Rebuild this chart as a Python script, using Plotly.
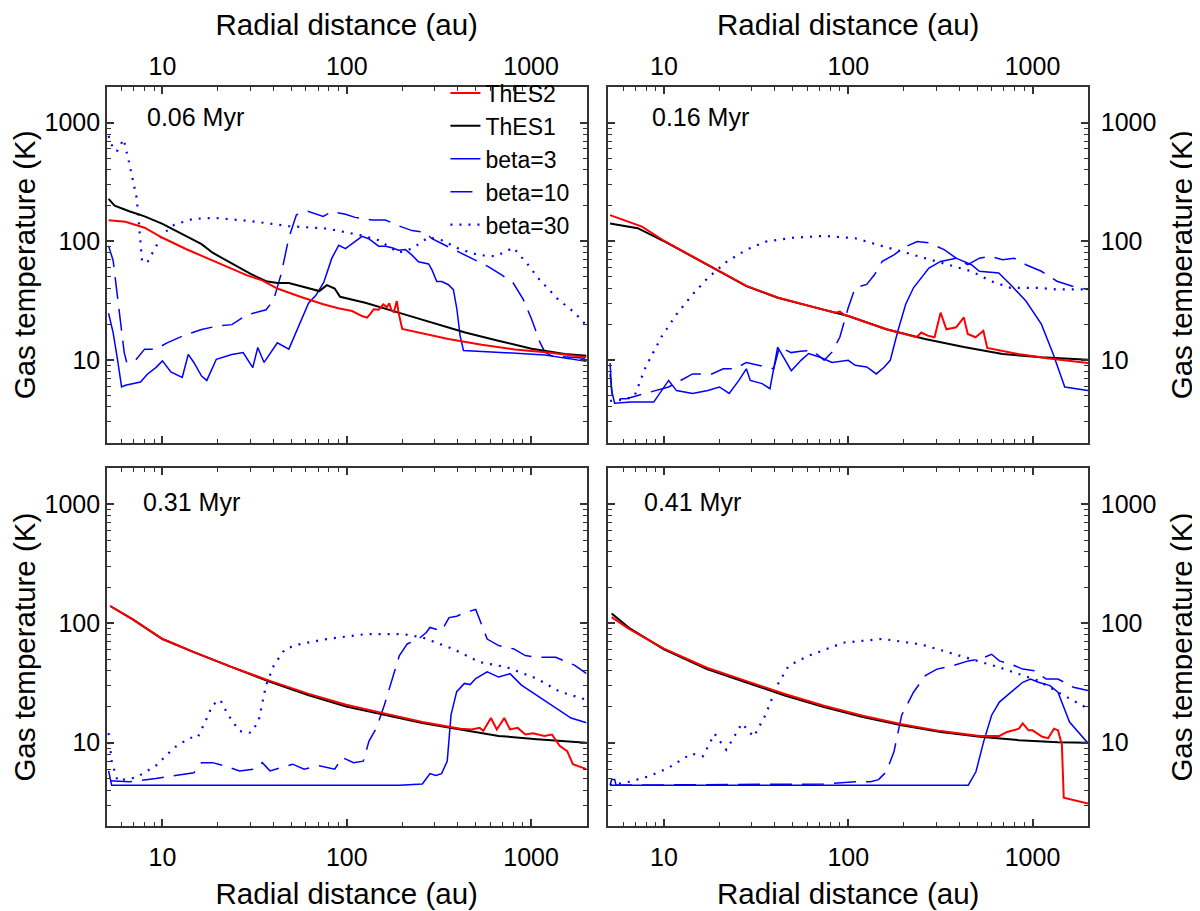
import plotly.graph_objects as go
from plotly.subplots import make_subplots

# radial distance (au) / gas temperature (K)

# ---- 0.06 Myr ----
r_a_thes2 = [5.1, 6.3, 8.0, 10, 13.4, 19.6, 28.8, 34.8, 42, 56, 74.5, 90, 107, 121, 129, 134, 140, 149, 158, 165, 170, 175, 180, 187, 191, 200, 245, 356, 540, 817, 1236, 2000]
T_a_thes2 = [150, 146, 130, 107, 86, 66.5, 51.5, 46.8, 39.9, 34, 29.4, 27.2, 25.8, 23.4, 22.7, 24.3, 26.7, 26.5, 29.3, 27.8, 30, 26, 25.3, 31.3, 25, 18.2, 17, 15, 13.4, 12.2, 11.5, 10.5]
r_a_thes1 = [5.1, 5.5, 6.6, 8.0, 10, 12.8, 16.3, 18.7, 23.8, 30.1, 36.5, 42, 48.5, 61.5, 71, 78, 86, 92, 126, 191, 290, 439, 664, 1007, 1524, 2000]
T_a_thes1 = [228, 200, 179, 162, 140, 114, 94.5, 80, 65, 53, 46, 44.5, 44.5, 40.5, 38, 42.6, 39.9, 34, 30.3, 25, 20.6, 17, 14.5, 12.4, 11.2, 10.8]
r_a_b3 = [5.1, 5.4, 5.7, 6.0, 6.3, 6.9, 7.6, 8.3, 9.2, 10, 11.1, 12.8, 13.8, 14.8, 16.3, 17.4, 19.6, 23.8, 27.4, 30.9, 32.9, 35.6, 42, 48.5, 56, 62, 68, 75, 83, 90.5, 98.4, 107, 121, 131.5, 149, 162, 176, 191, 208, 226, 245, 278, 290, 308, 328, 356, 379, 396, 412, 430, 664, 1189, 2000]
T_a_b3 = [24.7, 16.9, 10.1, 5.9, 6.1, 6.3, 6.5, 7.6, 8.6, 9.8, 7.9, 7.1, 11.1, 9.5, 7.3, 6.7, 10.1, 11.1, 11.5, 8.6, 12.7, 9.5, 13.9, 12.3, 20.4, 30, 35, 45, 72, 92.5, 86.7, 95.3, 110, 105, 90.8, 90.8, 88, 84, 85, 76.4, 67.2, 64.3, 57.3, 45.8, 45.8, 43, 39.1, 26.7, 16, 12, 11.6, 11.0, 9.7]
r_a_b10 = [5.1, 5.4, 5.7, 6.2, 6.4, 7.1, 8.0, 9.2, 10.6, 13.4, 16.3, 19.6, 23.8, 28.8, 36.5, 40.1, 44.1, 48.5, 53.3, 61.5, 74.5, 83.4, 98.4, 111, 137, 162, 191, 226, 267, 290, 342, 404, 496, 586, 692, 801, 907, 1007, 1117, 1189, 1294, 2000]
T_a_b10 = [91.4, 68.7, 34, 11.5, 9.5, 9.8, 12.3, 12.3, 13.9, 16.3, 18, 19.2, 19.8, 24, 26.4, 31.9, 53.2, 107, 167, 179, 162, 178, 169, 159, 151, 151, 135, 123, 119, 105, 92.5, 81.3, 69.3, 61.1, 52, 44.4, 32.3, 22, 14.1, 11.6, 10.8, 10.3]
r_a_b30 = [5.1, 5.44, 5.7, 6.15, 6.58, 7.25, 7.76, 8.34, 10, 11.6, 14.8, 19.6, 30.1, 48.5, 78, 120, 149, 191, 226, 278, 328, 404, 518, 638, 722, 801, 966, 1094, 1403, 1726, 2000]
T_a_b30 = [774, 582, 582, 726, 466, 231, 66.5, 67.7, 114, 138, 155, 157, 148, 134, 128, 112, 102, 80, 86.7, 108, 102, 86.7, 76.4, 74.8, 81.3, 88.3, 63.1, 48.8, 32.3, 25, 19.4]

# ---- 0.16 Myr ----
r_b_thes2 = [5.1, 6.0, 7.6, 10.1, 14.3, 20, 28, 41.4, 61, 85, 90, 95, 100, 161, 235, 249, 270, 294, 317, 341, 385, 424, 445, 491, 541, 568, 835, 1200, 2000]
T_b_thes2 = [166, 151, 133, 100, 75, 56, 42, 33.5, 28.6, 25, 25.5, 24, 23.4, 18.1, 15.5, 17, 16, 15.5, 25, 18.1, 18.8, 22.8, 16.5, 15.5, 17.6, 12.6, 11.2, 10.3, 9.4]
r_b_thes1 = [5.1, 7.2, 10.1, 14.3, 20, 28, 41.4, 61, 100, 161, 261, 424, 688, 1117, 2000]
T_b_thes1 = [141, 129, 99.3, 74.5, 55.8, 41.8, 33.4, 28.5, 23.4, 18.1, 15, 12.8, 11.2, 10.5, 10]
r_b_b3 = [5.1, 5.2, 5.4, 6.6, 8.8, 10.6, 11.7, 14.3, 17.3, 20, 22.6, 25.5, 28, 29.4, 34.1, 37.6, 41.4, 43.4, 49.1, 55.4, 61, 70.4, 81.6, 100, 109, 126, 142, 157, 169, 186, 205, 226, 274, 317, 385, 466, 515, 656, 759, 921, 1117, 1294, 1496, 2000]
T_b_b3 = [9.4, 5.5, 4.3, 4.4, 4.4, 6.7, 5.5, 5.2, 5.5, 5.9, 5.2, 6.7, 8.4, 6.7, 6.3, 5.7, 12.8, 11.3, 8.1, 9.9, 11.3, 10.5, 9.5, 9.9, 9, 8.7, 7.6, 8.7, 9.9, 17.6, 29.4, 40.5, 59.4, 67.6, 72, 63.4, 55.8, 54, 43.2, 31.3, 20, 11.2, 5.9, 5.5]
r_b_b10 = [5.1, 5.27, 6.25, 7.2, 8.8, 10.6, 14.3, 18.2, 21, 24.3, 28, 32.5, 39.4, 42.3, 49, 55, 64, 74, 81.6, 90, 100, 109, 126, 139, 153, 177, 205, 237, 274, 333, 385, 445, 515, 596, 688, 796, 921, 1117, 1358, 1648, 2000]
T_b_b10 = [7.6, 4.7, 4.7, 5, 5.4, 5.9, 7.6, 7.6, 8.4, 8.4, 9.5, 9, 8.4, 12.8, 11.5, 11.8, 12, 9.9, 11.6, 15.5, 27.5, 40.5, 43.2, 52.4, 67.6, 76.9, 90.2, 99.3, 97, 84.7, 72, 63.4, 72, 74.5, 69.8, 72, 63.4, 55.8, 46, 41.8, 39.2]
r_b_b30 = [5.1, 6.0, 6.9, 7.96, 9.66, 11.7, 14.3, 17.3, 22, 28, 35.8, 50.2, 74, 109, 146, 195, 261, 349, 466, 596, 759, 1064, 1358, 2000]
T_b_b30 = [4.5, 4.6, 4.9, 8.7, 15.5, 24.2, 35.6, 49.1, 67.6, 84.7, 99.3, 107, 111, 106, 93, 82, 72, 63.4, 55.8, 46, 40.5, 40.5, 39.2, 39.2]

# ---- 0.31 Myr ----
r_c_thes2 = [5.2, 6.9, 10, 14.8, 23.8, 38.3, 61.6, 99.3, 160, 257, 414, 477, 526, 551, 606, 652, 716, 769, 847, 931, 1024, 1181, 1299, 1429, 1571, 1687, 2000]
T_c_thes2 = [140, 108, 74, 57.4, 43, 33, 25.8, 20.8, 17.6, 14.9, 13.1, 12.9, 13.3, 12.6, 16.1, 12.9, 16.1, 12.9, 13.3, 11.7, 12, 11.4, 11.7, 9.4, 8.5, 6.6, 6.0]
r_c_thes1 = [5.2, 6.9, 10, 14.8, 23.8, 38.3, 61.6, 99.3, 160, 257, 414, 667, 1074, 2000]
T_c_thes1 = [140, 108, 74, 57.4, 43, 32.4, 25.1, 20.1, 17.1, 14.6, 12.9, 11.4, 10.7, 10]
r_c_b3 = [5.1, 5.3, 193, 257, 283, 304, 327, 351, 368, 395, 435, 467, 501, 578, 667, 769, 887, 1074, 1299, 1648, 2000]
T_c_b3 = [5.8, 4.4, 4.4, 4.5, 5.5, 5.3, 5.5, 7, 17.1, 26.8, 31.4, 30.7, 34.5, 39.2, 35.5, 37.9, 30.4, 25.1, 20.7, 16.1, 14.7]
r_c_b10 = [5.2, 6.58, 9.2, 11.6, 14.8, 16.3, 18.7, 21.6, 26.2, 31.6, 34.8, 38.3, 50.9, 58.7, 71, 86, 94.6, 109, 123, 132, 145, 160, 176, 193, 213, 245, 270, 283, 327, 359, 395, 435, 501, 526, 578, 667, 807, 931, 1074, 1361, 1729, 2000]
T_c_b10 = [4.8, 4.7, 5, 5.3, 5.6, 6.8, 6.8, 6.4, 5.8, 6, 6.8, 5.8, 6.6, 6, 6.4, 6, 7.5, 6.8, 7, 10.3, 13.3, 20.7, 34.5, 53.8, 67.3, 74, 84, 92.5, 86.7, 112, 115, 123, 131, 108, 74, 65.2, 61.1, 53.8, 52.1, 52.1, 44.5, 37.9]
r_c_b30 = [5.1, 5.3, 5.7, 7.2, 9.2, 11.6, 14.1, 15.5, 17.1, 18.7, 20.6, 22.7, 26.2, 30.2, 33.2, 36.5, 40.2, 46.3, 56.1, 78.2, 126, 203, 257, 377, 526, 734, 1074, 1429, 2000]
T_c_b30 = [12, 7, 4.8, 5.1, 6.4, 9.1, 11, 11, 15.1, 20.7, 22.9, 17.1, 12.5, 12.1, 15.1, 30.4, 44.5, 61.1, 67.3, 74, 81.3, 81.3, 76.4, 61.1, 47.4, 43, 34.5, 26.8, 22.9]

# ---- 0.41 Myr ----
r_d_thes2 = [5.2, 6.46, 10, 17.1, 27.8, 45.3, 73.8, 120, 195, 318, 518, 661, 728, 843, 885, 952, 1000, 1130, 1216, 1307, 1374, 1443, 1477, 1750, 2000]
T_d_thes2 = [113, 90, 61.5, 42.5, 33, 25.6, 20.4, 16.8, 14.3, 12.5, 11.4, 11.4, 12.3, 13.1, 14.5, 12.7, 12.7, 11.2, 10.9, 13.1, 12.7, 9.6, 3.45, 3.24, 3.08]
r_d_thes1 = [5.2, 6.46, 10, 17.1, 27.8, 45.3, 73.8, 120, 195, 318, 518, 843, 1374, 2000]
T_d_thes1 = [121, 91.8, 60.7, 41.4, 32.1, 24.9, 19.9, 16.4, 14, 12.3, 11.2, 10.5, 10.1, 10]
r_d_b3 = [5.1, 5.2, 5.4, 5.5, 448, 493, 543, 600, 661, 765, 885, 975, 1076, 1245, 1374, 1588, 1837, 2000]
T_d_b3 = [4.4, 4.9, 4.9, 4.4, 4.4, 5.7, 10.2, 17, 21.9, 26.5, 32.1, 34.2, 32.1, 30.1, 26.5, 14.9, 11.6, 9.9]
r_d_b10 = [5.1, 73.8, 109, 132, 146, 161, 177, 195, 226, 262, 303, 368, 448, 518, 600, 661, 765, 885, 1026, 1186, 1374, 1667, 2000]
T_d_b10 = [4.4, 4.5, 4.7, 4.7, 4.9, 5.7, 8.4, 17, 26.5, 36.5, 41.4, 44.2, 48.5, 50.1, 55.1, 48.5, 45.5, 41.4, 40.1, 34.2, 34.2, 29.2, 27.4]
r_d_b30 = [5.1, 6.46, 8.2, 10.5, 14.1, 16.3, 18.8, 21.8, 26.5, 30.7, 35.5, 41.1, 47.5, 60.7, 94.2, 153, 249, 405, 661, 1076, 1374, 2000]
T_d_b30 = [4.4, 4.7, 5.2, 6.1, 8.1, 7.7, 11.9, 8.7, 14.5, 11.2, 17, 30.1, 44.2, 53.4, 68.9, 74.2, 66.7, 53.4, 42.8, 33.1, 26.5, 19.3]

ages = ["0.06 Myr", "0.16 Myr", "0.31 Myr", "0.41 Myr"]
names = ["ThES2", "ThES1", "beta=3", "beta=10", "beta=30"]
tick_vals = [10, 100, 1000]
tick_text = ["10", "100", "1000"]

panels = [
    [(r_a_thes2, T_a_thes2), (r_a_thes1, T_a_thes1), (r_a_b3, T_a_b3), (r_a_b10, T_a_b10), (r_a_b30, T_a_b30)],
    [(r_b_thes2, T_b_thes2), (r_b_thes1, T_b_thes1), (r_b_b3, T_b_b3), (r_b_b10, T_b_b10), (r_b_b30, T_b_b30)],
    [(r_c_thes2, T_c_thes2), (r_c_thes1, T_c_thes1), (r_c_b3, T_c_b3), (r_c_b10, T_c_b10), (r_c_b30, T_c_b30)],
    [(r_d_thes2, T_d_thes2), (r_d_thes1, T_d_thes1), (r_d_b3, T_d_b3), (r_d_b10, T_d_b10), (r_d_b30, T_d_b30)],
]

styles = [
    dict(color="#ff0000", width=2),
    dict(color="#000000", width=2),
    dict(color="#0000ff", width=1.5),
    dict(color="#0000ff", width=1.5, dash="22px,10px"),
    dict(color="#0000ff", width=2.2, dash="2px,7px"),
]

FONT = "Liberation Sans, Arial, sans-serif"
TICKC = "#333333"

fig = make_subplots(rows=2, cols=2)

for k, series in enumerate(panels):
    row, col = k // 2 + 1, k % 2 + 1
    # blue first, red/black on top
    for j in [2, 3, 4, 1, 0]:
        r, T = series[j]
        fig.add_trace(go.Scatter(x=r, y=T, mode="lines", name=names[j],
                                 line=styles[j], showlegend=(k == 0),
                                 legendrank=j + 1),
                      row=row, col=col)

minor_x = [m * 10 ** e for e in range(0, 4) for m in range(2, 10) if 5 <= m * 10 ** e <= 2000]
minor_y = [m * 10 ** e for e in range(0, 4) for m in range(2, 10) if 2 <= m * 10 ** e <= 2000]

axis_base = dict(type="log", showline=True, linecolor="#333333", linewidth=1.6,
                 mirror="allticks", ticks="inside", ticklen=7, tickwidth=1.5,
                 tickcolor=TICKC, showgrid=False, zeroline=False,
                 tickmode="array", tickvals=tick_vals, ticktext=tick_text,
                 tickfont=dict(family=FONT, size=25, color="black"))
minor_base = dict(ticks="inside", ticklen=4, tickwidth=1.2, tickcolor=TICKC, showgrid=False)

xdom = [[0, 0.4888], [0.5112, 1]]
ydom = [[0.5187, 1], [0, 0.484]]

for k in range(4):
    row, col = k // 2, k % 2
    sfx = "" if k == 0 else str(k + 1)
    xa = dict(axis_base, domain=xdom[col], range=[0.69897, 3.30103], anchor="y" + sfx,
              side="top" if row == 0 else "bottom",
              ticklabelstandoff=0 if row == 0 else 8,
              minor=dict(minor_base, tickmode="array", tickvals=minor_x))
    xa["title"] = dict(text="Radial distance (au)", font=dict(family=FONT, size=29.5, color="black"),
                       standoff=12 if row == 0 else 14)
    ya = dict(axis_base, domain=ydom[row], range=[0.30103, 3.30103], anchor="x" + sfx,
              side="left" if col == 0 else "right",
              ticklabelstandoff=0 if col == 0 else 6,
              minor=dict(minor_base, tickmode="array", tickvals=minor_y))
    ya["title"] = dict(text="Gas temperature (K)", font=dict(family=FONT, size=29.5, color="black"),
                       standoff=4 if col == 0 else 16)
    fig.layout["xaxis" + sfx] = xa
    fig.layout["yaxis" + sfx] = ya

ann_pos = [(0.079, 0.915), (0.087, 0.915), (0.07, 0.906), (0.07, 0.906)]
for k in range(4):
    sfx = "" if k == 0 else str(k + 1)
    fig.add_annotation(text=ages[k], xref="x" + sfx + " domain", yref="y" + sfx + " domain",
                       x=ann_pos[k][0], y=ann_pos[k][1], xanchor="left", yanchor="middle",
                       showarrow=False, font=dict(family=FONT, size=25, color="black"))

# the page body adds an 8px offset, so the margins are shifted up/left by 8px
fig.update_layout(
    width=1200, height=911,
    margin=dict(l=96, r=120, t=70, b=93),
    paper_bgcolor="white", plot_bgcolor="white",
    font=dict(family=FONT, size=25, color="black"),
    legend=dict(x=0.345, y=1.021, xanchor="left", yanchor="top",
                bgcolor="rgba(0,0,0,0)", borderwidth=0,
                font=dict(family=FONT, size=23, color="black"),
                tracegroupgap=0, itemwidth=30),
    showlegend=True,
)

fig.write_html("out.html")
